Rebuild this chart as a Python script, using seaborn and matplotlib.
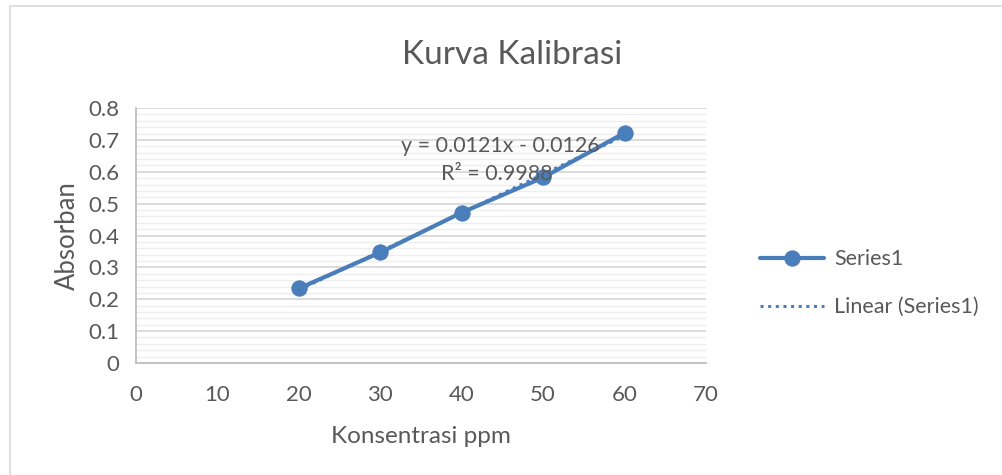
import numpy as np
import pandas as pd
import matplotlib.pyplot as plt
import matplotlib.patches as patches
from matplotlib.ticker import MultipleLocator
import seaborn as sns

# data
konsentrasi = [20, 30, 40, 50, 60]
absorban = [0.234, 0.347, 0.472, 0.582, 0.722]
eq_text = "y = 0.0121x - 0.0126"
r2_text = "R² = 0.9988"
x_ticks = [0, 10, 20, 30, 40, 50, 60, 70]
y_ticks = [0, 0.1, 0.2, 0.3, 0.4, 0.5, 0.6, 0.7, 0.8]

df = pd.DataFrame({"Konsentrasi ppm": konsentrasi, "Absorban": absorban})

sns.set_style("white")
plt.rcParams['font.family'] = ['Lato', 'DejaVu Sans']

blue = "#4A7EBB"
txt = "#595959"

fig = plt.figure(figsize=(10.03, 4.75), dpi=100)
ax = fig.add_axes([0.1356, 0.2358, 0.5683, 0.5368])

# outer chart border
fig.patches.append(patches.Rectangle((0.010, -0.05), 1.2, 1.038, transform=fig.transFigure,
                                     fill=False, edgecolor="#d9d9d9", linewidth=1.2))

# trendline (dotted)
sns.regplot(data=df, x="Konsentrasi ppm", y="Absorban", ax=ax, ci=None, scatter=False,
            truncate=True, line_kws=dict(color=blue, linestyle=(0, (1, 1.5)), linewidth=2.2, zorder=3),
            label="Linear (Series1)")

# series
sns.lineplot(data=df, x="Konsentrasi ppm", y="Absorban", ax=ax, color=blue, linewidth=3,
             marker="o", markersize=11, markeredgecolor=blue, label="Series1", zorder=4)

ax.set_xlim(0, 70)
ax.set_ylim(0, 0.8)
ax.set_xticks(x_ticks)
ax.set_yticks(y_ticks)
ax.set_xticklabels([str(v) for v in x_ticks])
ax.set_yticklabels(["0" if v == 0 else f"{v:.1f}" for v in y_ticks])
ax.yaxis.set_minor_locator(MultipleLocator(0.02))
ax.grid(True, which="major", axis="y", color="#d9d9d9", linewidth=1.3)
ax.grid(True, which="minor", axis="y", color="#eeeeee", linewidth=1.0)
ax.set_axisbelow(True)

for s in ["top", "right"]:
    ax.spines[s].set_visible(False)
for s in ["left", "bottom"]:
    ax.spines[s].set_color("#bfbfbf")
    ax.spines[s].set_linewidth(1.3)
ax.tick_params(axis="both", which="major", direction="out", length=6, width=1.3,
               color="#bfbfbf", labelsize=16, labelcolor=txt, pad=6)
ax.tick_params(axis="y", which="minor", length=0)
ax.tick_params(axis="x", pad=10)

ax.set_xlabel("Konsentrasi ppm", fontsize=17.5, color=txt, labelpad=15)
ax.set_ylabel("Absorban", fontsize=18.5, color=txt, labelpad=6)
fig.text(0.511, 0.885, "Kurva Kalibrasi", ha="center", va="center", fontsize=24, color=txt)

ax.text(44.8, 0.681, eq_text, ha="center", va="center", fontsize=15.5, color=txt, zorder=5)
ax.text(44.3, 0.594, r2_text, ha="center", va="center", fontsize=15.5, color=txt, zorder=5)

handles, labels = ax.get_legend_handles_labels()
order = [labels.index("Series1"), labels.index("Linear (Series1)")]
leg = ax.legend([handles[i] for i in order], [labels[i] for i in order],
                loc="center left", bbox_to_anchor=(1.06, 0.313), frameon=False,
                fontsize=15.5, handlelength=3.0, labelspacing=1.3, handletextpad=0.45)
for t in leg.get_texts():
    t.set_color(txt)

fig.savefig("out.png", dpi=100, facecolor="white")
